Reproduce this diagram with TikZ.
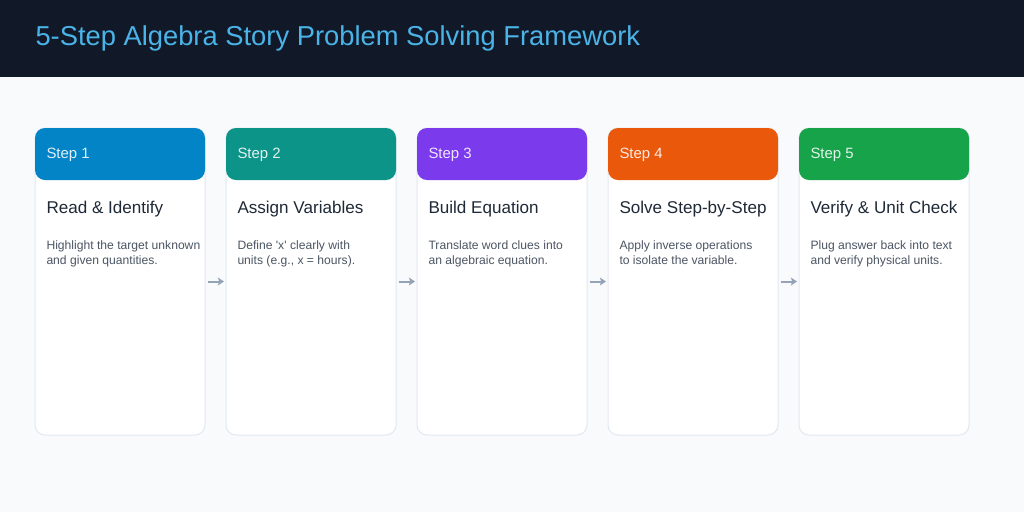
\documentclass[tikz,border=0pt]{standalone}
\usepackage{fontspec}
\setmainfont{Liberation Sans}
\usetikzlibrary{arrows.meta}
\tikzset{every picture/.style={line width=0.75pt}}

\definecolor{pagebg}{HTML}{F8FAFC}
\definecolor{topband}{HTML}{111827}
\definecolor{titleblue}{HTML}{4AB4E8}
\definecolor{cardline}{HTML}{E2E8F0}
\definecolor{headtxt}{HTML}{1F2937}
\definecolor{desctxt}{HTML}{4B5563}
\definecolor{arrowgray}{HTML}{94A3B8}
\definecolor{stepA}{HTML}{0284C7}
\definecolor{stepB}{HTML}{0D9488}
\definecolor{stepC}{HTML}{7C3AED}
\definecolor{stepD}{HTML}{EA580C}
\definecolor{stepE}{HTML}{16A34A}

\tikzset{
  card/.style={draw=cardline, fill=white, rounded corners=7.5pt, minimum width=127.5pt, minimum height=230.25pt, inner sep=0pt},
  cardhead/.style={fill=#1, rounded corners=7.5pt, minimum width=127.5pt, minimum height=39pt, inner sep=0pt, anchor=north},
  steplabel/.style={anchor=base west, inner sep=0pt, font=\fontsize{11.2pt}{13pt}\selectfont, text=#1},
  cardtitle/.style={anchor=base west, inner sep=0pt, font=\fontsize{12.8pt}{15pt}\selectfont, text=headtxt},
  carddesc/.style={anchor=base west, inner sep=0pt, align=left, font=\fontsize{9.1pt}{10.6pt}\selectfont, text=desctxt},
  flow/.style={draw=arrowgray, line width=1.5pt, -{Stealth[length=4.5pt,width=6pt,inset=1pt]}, shorten <=1.5pt, shorten >=1.2pt}
}

\begin{document}
\begin{tikzpicture}[x=0.75pt,y=0.75pt,yscale=-1,xscale=1]
%set diagram at 1024 x 512
\fill[pagebg] (0,0) rectangle (1024,512);
%Shape: Rectangle [id:top band]
\fill[topband] (0,0) rectangle (1024,77);

% Text Node
\node (title) [anchor=base west, inner sep=0pt, font=\fontsize{20.5pt}{24pt}\selectfont, text=titleblue] at (35,45) {5-Step Algebra Story Problem Solving Framework};

%Shape: Card [id:card1]
\node[card] (card1) at (120,281.5) {};
\node[cardhead=stepA] (head1) at (card1.north) {};
%Shape: Card [id:card2]
\node[card] (card2) at (311,281.5) {};
\node[cardhead=stepB] (head2) at (card2.north) {};
%Shape: Card [id:card3]
\node[card] (card3) at (502,281.5) {};
\node[cardhead=stepC] (head3) at (card3.north) {};
%Shape: Card [id:card4]
\node[card] (card4) at (693,281.5) {};
\node[cardhead=stepD] (head4) at (card4.north) {};
%Shape: Card [id:card5]
\node[card] (card5) at (884,281.5) {};
\node[cardhead=stepE] (head5) at (card5.north) {};

%Straight Lines [id:arrows]
\draw[flow] (card1.east) -- (card2.west);
\draw[flow] (card2.east) -- (card3.west);
\draw[flow] (card3.east) -- (card4.west);
\draw[flow] (card4.east) -- (card5.west);

% Text Node
\node[steplabel=white!88!stepA] (lab1) at (46,158) {Step 1};
\node[cardtitle] (name1) at (46,213) {Read \& Identify};
\node[carddesc] (desc1) at (46,264) {Highlight the target unknown\\and given quantities.};
% Text Node
\node[steplabel=white!88!stepB] (lab2) at (237,158) {Step 2};
\node[cardtitle] (name2) at (237,213) {Assign Variables};
\node[carddesc] (desc2) at (237,264) {Define \textquotesingle x\textquotesingle{} clearly with\\units (e.g., x = hours).};
% Text Node
\node[steplabel=white!88!stepC] (lab3) at (428,158) {Step 3};
\node[cardtitle] (name3) at (428,213) {Build Equation};
\node[carddesc] (desc3) at (428,264) {Translate word clues into\\an algebraic equation.};
% Text Node
\node[steplabel=white!88!stepD] (lab4) at (619,158) {Step 4};
\node[cardtitle] (name4) at (619,213) {Solve Step-by-Step};
\node[carddesc] (desc4) at (619,264) {Apply inverse operations\\to isolate the variable.};
% Text Node
\node[steplabel=white!88!stepE] (lab5) at (810,158) {Step 5};
\node[cardtitle] (name5) at (810,213) {Verify \& Unit Check};
\node[carddesc] (desc5) at (810,264) {Plug answer back into text\\and verify physical units.};

\end{tikzpicture}
\end{document}
